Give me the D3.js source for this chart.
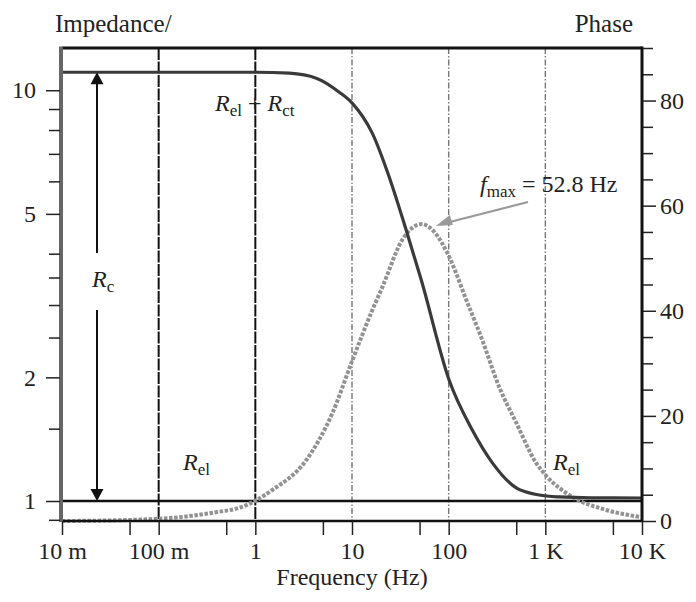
<!DOCTYPE html>
<html>
<head>
<meta charset="utf-8">
<script src="https://cdn.jsdelivr.net/npm/d3@7"></script>
<style>
  body { margin: 0; background: #fff; }
  svg text { font-family: "Liberation Serif", "DejaVu Serif", serif; fill: #222; }
</style>
</head>
<body>
<svg id="chart" width="696" height="602"></svg>
<script>
// axis ticks
const freqTicks = [0.01, 0.1, 1, 10, 100, 1000, 10000];
const freqLabels = ["10 m", "100 m", "1", "10", "100", "1 K", "10 K"];
const freqMinor = [0.05, 0.5, 5, 50, 500, 5000];
const zTicks = [1, 2, 5, 10];
const zMinor = [0.9, 1.5, 2.5, 3, 3.5, 4, 6, 7, 8, 9];
const phaseTicks = [0, 20, 40, 60, 80];
const phaseMinor = [5, 10, 15, 25, 30, 35, 45, 50, 55, 65, 70, 75, 85, 90];

// vertical reference lines
const darkLines = [0.1, 1];
const lightLines = [10, 100, 1000];

// impedance magnitude curve
const impFreq = [0.01, 0.1, 1, 2.25, 4.27, 7.39, 10.1, 16.2, 24.3, 36.4, 52.1, 101, 175, 282, 500, 865, 1393, 3000, 10000];
const impValue = [11.06, 11.06, 11.06, 11.0, 10.7, 9.89, 9.29, 7.86, 6.14, 4.56, 3.45, 1.97, 1.49, 1.24, 1.076, 1.034, 1.023, 1.018, 1.017];

// phase curve
const phaseFreq = [0.01, 0.05, 0.18, 0.4, 0.68, 1.5, 3.37, 6.26, 10.1, 16.2, 20.6, 33.1, 52.8, 71, 101, 152, 222, 333, 500, 805, 1021, 1897, 4266, 9350];
const phaseValue = [0, 0.2, 0.8, 1.7, 2.5, 5.9, 11.6, 20.5, 30.6, 40.1, 44.5, 53.5, 56.5, 55, 50.3, 42.1, 34.5, 25.5, 18.7, 11, 8.6, 4.6, 2.1, 0.8];

const rEl = 1;
const rTotal = 11.06;
const fMax = 52.8;

const margin = { top: 48, right: 54, bottom: 81, left: 62 },
    width = 696 - margin.left - margin.right,
    height = 602 - margin.top - margin.bottom;

const svg = d3.select("#chart")
    .append("g")
    .attr("transform", `translate(${margin.left}, ${margin.top})`);

const x = d3.scaleLog().domain([0.01, 10000]).range([0, width]);
const y = d3.scaleLog().domain([0.894, 12.67]).range([height, 0]);
const y2 = d3.scaleLinear().domain([0, 90]).range([height, 0]);

// vertical lines
svg.selectAll(".vdark").data(darkLines).join("line").attr("class", "vdark")
    .attr("x1", d => x(d)).attr("x2", d => x(d))
    .attr("y1", 0).attr("y2", height)
    .attr("stroke", "#111").attr("stroke-width", 2)
    .attr("stroke-dasharray", "12,1.5");

svg.selectAll(".vlight").data(lightLines).join("line").attr("class", "vlight")
    .attr("x1", d => x(d)).attr("x2", d => x(d))
    .attr("y1", 0).attr("y2", height)
    .attr("stroke", "#777").attr("stroke-width", 1.4)
    .attr("stroke-dasharray", "6,2,1.5,2");

// R_el line
svg.append("line")
    .attr("x1", 0).attr("x2", width)
    .attr("y1", y(rEl)).attr("y2", y(rEl))
    .attr("stroke", "#111").attr("stroke-width", 2.5);

// phase curve (dotted)
const phaseLine = d3.line()
    .x(d => x(d[0]))
    .y(d => y2(d[1]))
    .curve(d3.curveMonotoneX);

svg.append("path")
    .datum(d3.zip(phaseFreq, phaseValue))
    .attr("d", phaseLine)
    .attr("fill", "none")
    .attr("stroke", "#929292")
    .attr("stroke-width", 4)
    .attr("stroke-dasharray", "3.5,1.6");

// impedance curve
const impLine = d3.line()
    .x(d => x(d[0]))
    .y(d => y(d[1]))
    .curve(d3.curveMonotoneX);

svg.append("path")
    .datum(d3.zip(impFreq, impValue))
    .attr("d", impLine)
    .attr("fill", "none")
    .attr("stroke", "#3a3a3a")
    .attr("stroke-width", 3.2);

// frame
svg.append("line").attr("x1", 0).attr("x2", width).attr("y1", 0).attr("y2", 0)
    .attr("stroke", "#111").attr("stroke-width", 3);
svg.append("line").attr("x1", 0).attr("x2", width).attr("y1", height).attr("y2", height)
    .attr("stroke", "#111").attr("stroke-width", 2.5);
svg.append("line").attr("x1", width).attr("x2", width).attr("y1", -1.5).attr("y2", height + 1)
    .attr("stroke", "#111").attr("stroke-width", 3);
svg.append("line").attr("x1", -1).attr("x2", -1).attr("y1", -1.5).attr("y2", height + 1)
    .attr("stroke", "#666").attr("stroke-width", 4);

// axes
function styleAxis(g) {
    g.select(".domain").remove();
    g.selectAll(".tick line").attr("stroke", "#222").attr("stroke-width", 1.5);
    g.selectAll(".tick text").style("font-family", '"Liberation Serif", serif')
        .style("font-size", "24px").attr("fill", "#222");
}

svg.append("g").attr("transform", `translate(0, ${height})`)
    .call(d3.axisBottom(x).tickValues(freqMinor).tickSize(14).tickFormat(""))
    .call(styleAxis);
svg.append("g").attr("transform", `translate(0, ${height})`)
    .call(d3.axisBottom(x).tickValues(freqTicks).tickSize(14).tickPadding(7)
        .tickFormat((d, i) => freqLabels[i]))
    .call(styleAxis);

svg.append("g").attr("transform", "translate(-2, 0)")
    .call(d3.axisLeft(y).tickValues(zMinor).tickSize(11).tickFormat(""))
    .call(styleAxis);
svg.append("g").attr("transform", "translate(-2, 0)")
    .call(d3.axisLeft(y).tickValues(zTicks).tickSize(14).tickPadding(10)
        .tickFormat(d3.format("d")))
    .call(styleAxis);

svg.append("g").attr("transform", `translate(${width + 1}, 0)`)
    .call(d3.axisRight(y2).tickValues(phaseMinor).tickSize(10).tickFormat(""))
    .call(styleAxis);
svg.append("g").attr("transform", `translate(${width + 1}, 0)`)
    .call(d3.axisRight(y2).tickValues(phaseTicks).tickSize(13).tickPadding(4)
        .tickFormat(d3.format("d")))
    .call(styleAxis);

// axis titles
svg.append("text").attr("x", -7).attr("y", -16)
    .style("font-size", "25px").text("Impedance/");
svg.append("text").attr("x", width - 9).attr("y", -16)
    .attr("text-anchor", "end").style("font-size", "25px").text("Phase");
svg.append("text").attr("x", width / 2).attr("y", height + 64)
    .attr("text-anchor", "middle").style("font-size", "24px").text("Frequency (Hz)");

// R_c double arrow
const arrowX = 35;
const gapTop = 205, gapBottom = 262;
svg.append("line").attr("x1", arrowX).attr("x2", arrowX)
    .attr("y1", y(rTotal) + 11).attr("y2", gapTop)
    .attr("stroke", "#111").attr("stroke-width", 2);
svg.append("line").attr("x1", arrowX).attr("x2", arrowX)
    .attr("y1", gapBottom).attr("y2", y(rEl) - 11)
    .attr("stroke", "#111").attr("stroke-width", 2);
svg.append("path")
    .attr("d", `M${arrowX},${y(rTotal)} l-6.5,12 l13,0 z`)
    .attr("fill", "#111");
svg.append("path")
    .attr("d", `M${arrowX},${y(rEl)} l-6.5,-12 l13,0 z`)
    .attr("fill", "#111");

// labels with subscripts
function label(xp, yp, parts) {
    const t = svg.append("text").attr("x", xp).attr("y", yp).style("font-size", "24px");
    parts.forEach(p => {
        const s = t.append("tspan").text(p.t);
        if (p.i) s.style("font-style", "italic");
        if (p.sub) s.style("font-size", "17px").attr("dy", 5);
        if (p.up) s.attr("dy", -5);
    });
    return t;
}

label(30, 239, [{ t: "R", i: 1 }, { t: "c", sub: 1 }]);
label(153, 63, [{ t: "R", i: 1 }, { t: "el", sub: 1 }, { t: " + ", up: 1 }, { t: "R", i: 1 }, { t: "ct", sub: 1 }]);
label(121, 422, [{ t: "R", i: 1 }, { t: "el", sub: 1 }]);
label(491, 422, [{ t: "R", i: 1 }, { t: "el", sub: 1 }]);
label(418, 144, [{ t: "f", i: 1 }, { t: "max", sub: 1 }, { t: " = 52.8 Hz", up: 1 }]);

// f_max arrow
const tipX = x(fMax) + 14, tipY = y2(56.5) + 2;
svg.append("line")
    .attr("x1", 466).attr("x2", tipX + 10)
    .attr("y1", 154).attr("y2", tipY - 3)
    .attr("stroke", "#999").attr("stroke-width", 2);
svg.append("path")
    .attr("d", `M${tipX},${tipY} l14,-11 l3,10 z`)
    .attr("fill", "#999");
</script>
</body>
</html>
